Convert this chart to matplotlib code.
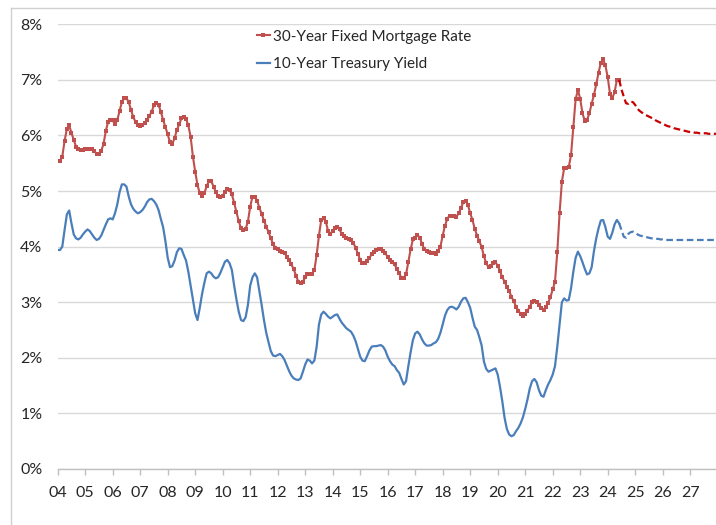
import numpy as np
import matplotlib.pyplot as plt
from matplotlib.lines import Line2D

plt.rcParams['font.family'] = ['Lato', 'DejaVu Sans']

# monthly data, Jan 2004 onward
start_year = 2004

mortgage = [
    5.54, 5.54, 5.62, 5.90, 6.12, 6.18, 6.05, 5.92, 5.80, 5.75, 5.74, 5.74,  # 2004
    5.75, 5.76, 5.76, 5.75, 5.72, 5.67, 5.66, 5.72, 5.85, 6.08, 6.25, 6.28,  # 2005
    6.27, 6.20, 6.28, 6.44, 6.60, 6.67, 6.67, 6.60, 6.46, 6.33, 6.24, 6.18,  # 2006
    6.17, 6.19, 6.22, 6.28, 6.35, 6.43, 6.54, 6.58, 6.55, 6.43, 6.28, 6.15,  # 2007
    6.02, 5.88, 5.85, 5.95, 6.10, 6.20, 6.31, 6.34, 6.30, 6.18, 5.98, 5.62,  # 2008
    5.35, 5.11, 4.96, 4.92, 4.96, 5.09, 5.18, 5.18, 5.08, 4.98, 4.91, 4.90,  # 2009
    4.92, 4.98, 5.03, 5.02, 4.94, 4.79, 4.62, 4.46, 4.33, 4.30, 4.32, 4.45,  # 2010
    4.72, 4.90, 4.90, 4.83, 4.70, 4.59, 4.47, 4.36, 4.26, 4.15, 4.05, 3.98,  # 2011
    3.95, 3.93, 3.91, 3.88, 3.82, 3.76, 3.68, 3.59, 3.48, 3.37, 3.34, 3.37,  # 2012
    3.45, 3.50, 3.51, 3.51, 3.58, 3.85, 4.20, 4.48, 4.51, 4.45, 4.28, 4.23,  # 2013
    4.28, 4.33, 4.36, 4.31, 4.22, 4.19, 4.16, 4.14, 4.12, 4.07, 3.98, 3.87,  # 2014
    3.76, 3.71, 3.70, 3.74, 3.80, 3.86, 3.91, 3.94, 3.95, 3.95, 3.93, 3.88,  # 2015
    3.81, 3.76, 3.72, 3.68, 3.60, 3.52, 3.44, 3.43, 3.50, 3.72, 3.95, 4.13,  # 2016
    4.16, 4.21, 4.16, 4.05, 3.95, 3.92, 3.90, 3.89, 3.88, 3.87, 3.93, 4.00,  # 2017
    4.20, 4.38, 4.50, 4.56, 4.56, 4.55, 4.54, 4.60, 4.70, 4.80, 4.83, 4.75,  # 2018
    4.60, 4.48, 4.32, 4.20, 4.10, 3.99, 3.83, 3.70, 3.63, 3.66, 3.71, 3.72,  # 2019
    3.66, 3.56, 3.45, 3.37, 3.28, 3.20, 3.10, 3.02, 2.92, 2.85, 2.79, 2.76,  # 2020
    2.79, 2.85, 2.92, 3.00, 3.03, 3.00, 2.95, 2.89, 2.86, 2.92, 2.99, 3.09,  # 2021
    3.23, 3.37, 3.90, 4.60, 5.17, 5.41, 5.41, 5.43, 5.65, 6.16, 6.65, 6.82,  # 2022
    6.66, 6.40, 6.26, 6.28, 6.40, 6.57, 6.73, 6.92, 7.13, 7.31, 7.37, 7.26,  # 2023
    7.05, 6.75, 6.67, 6.78, 7.00, 7.00,                                      # 2024
]

treasury = [
    3.94, 3.94, 4.00, 4.30, 4.58, 4.65, 4.42, 4.22, 4.15, 4.13, 4.16, 4.22,  # 2004
    4.27, 4.31, 4.28, 4.22, 4.16, 4.12, 4.14, 4.20, 4.30, 4.40, 4.49, 4.51,  # 2005
    4.49, 4.60, 4.76, 4.98, 5.12, 5.12, 5.08, 4.90, 4.76, 4.68, 4.63, 4.60,  # 2006
    4.62, 4.66, 4.72, 4.80, 4.85, 4.86, 4.82, 4.76, 4.66, 4.50, 4.35, 4.10,  # 2007
    3.80, 3.63, 3.65, 3.75, 3.90, 3.97, 3.96, 3.85, 3.75, 3.55, 3.30, 3.05,  # 2008
    2.80, 2.68, 2.90, 3.15, 3.35, 3.52, 3.55, 3.52, 3.46, 3.43, 3.45, 3.53,  # 2009
    3.63, 3.73, 3.76, 3.70, 3.58, 3.30, 3.05, 2.83, 2.68, 2.66, 2.73, 2.95,  # 2010
    3.30, 3.45, 3.52, 3.45, 3.20, 2.95, 2.68, 2.45, 2.28, 2.12, 2.04, 2.03,  # 2011
    2.05, 2.07, 2.03, 1.96, 1.86, 1.76, 1.68, 1.63, 1.61, 1.60, 1.63, 1.75,  # 2012
    1.88, 1.97, 1.95, 1.90, 1.95, 2.20, 2.60, 2.78, 2.83, 2.79, 2.74, 2.71,  # 2013
    2.74, 2.77, 2.78, 2.70, 2.63, 2.58, 2.53, 2.50, 2.47, 2.40, 2.30, 2.16,  # 2014
    2.02, 1.95, 1.94, 2.03, 2.13, 2.20, 2.21, 2.21, 2.22, 2.23, 2.20, 2.13,  # 2015
    2.02, 1.94, 1.88, 1.85, 1.78, 1.73, 1.62, 1.52, 1.58, 1.85, 2.10, 2.32,  # 2016
    2.44, 2.47, 2.42, 2.33, 2.26, 2.22, 2.22, 2.23, 2.26, 2.28, 2.34, 2.45,  # 2017
    2.60, 2.76, 2.86, 2.91, 2.92, 2.90, 2.87, 2.92, 3.01, 3.07, 3.08, 3.00,  # 2018
    2.90, 2.72, 2.56, 2.50, 2.37, 2.22, 1.93, 1.80, 1.75, 1.77, 1.79, 1.81,  # 2019
    1.70, 1.48, 1.22, 0.92, 0.72, 0.62, 0.59, 0.61, 0.68, 0.74, 0.82, 0.93,  # 2020
    1.08, 1.25, 1.45, 1.58, 1.62, 1.56, 1.42, 1.32, 1.30, 1.42, 1.52, 1.60,  # 2021
    1.70, 1.85, 2.20, 2.60, 3.00, 3.07, 3.03, 3.04, 3.25, 3.55, 3.80, 3.91,  # 2022
    3.83, 3.72, 3.60, 3.50, 3.52, 3.63, 3.92, 4.15, 4.33, 4.47, 4.48, 4.35,  # 2023
    4.18, 4.14, 4.25, 4.40, 4.48, 4.42,                                      # 2024
]

# forecasts, starting at the last actual month (Jun 2024)
mortgage_fc = [
    7.00, 6.83, 6.70, 6.58, 6.57, 6.61, 6.60, 6.55, 6.48, 6.44, 6.41, 6.38,
    6.36, 6.34, 6.32, 6.30, 6.27, 6.25, 6.23, 6.21, 6.19, 6.17, 6.16, 6.15,
    6.13, 6.12, 6.11, 6.10, 6.09, 6.08, 6.07, 6.06, 6.06, 6.05, 6.05, 6.04,
    6.04, 6.04, 6.04, 6.03, 6.03, 6.03, 6.03, 6.03,
]
treasury_fc = [
    4.42, 4.30, 4.18, 4.16, 4.23, 4.26, 4.27, 4.25, 4.22, 4.20, 4.19, 4.18,
    4.17, 4.16, 4.15, 4.15, 4.14, 4.14, 4.13, 4.13, 4.12, 4.12, 4.12, 4.12,
    4.12, 4.12, 4.12, 4.12, 4.12, 4.12, 4.12, 4.12, 4.12, 4.12, 4.12, 4.12,
    4.12, 4.12, 4.12, 4.12, 4.12, 4.12, 4.12, 4.12,
]

year_ticks = list(range(2004, 2028))
year_labels = [f"{y % 100:02d}" for y in year_ticks]

red = '#C0504D'
red_fc = '#C80000'
blue = '#4A7EBB'
grid_c = '#D9D9D9'
text_c = '#262626'

x_act = start_year + np.arange(len(mortgage)) / 12
x_fc = x_act[-1] + np.arange(len(mortgage_fc)) / 12

fig = plt.figure(figsize=(7.16, 5.25), dpi=100)
ax = fig.add_axes([57.7 / 716, 56 / 525, 1 - 57.7 / 716, (469 - 24.3) / 525])

ax.plot(x_act, treasury, color=blue, lw=1.6, label='10-Year Treasury Yield', zorder=3)
ax.plot(x_fc, treasury_fc, color=blue, lw=1.6, ls=(0, (3, 1.6)), zorder=3)
ax.plot(x_act, mortgage, color=red, lw=1.5, marker='s', ms=3.0, mew=0,
        label='30-Year Fixed Mortgage Rate', zorder=4)
ax.plot(x_fc, mortgage_fc, color=red_fc, lw=1.6, ls=(0, (3, 1.6)), zorder=4)

ax.set_xlim(2004, 2004 + (716 - 57.7) / 27.5)
ax.set_ylim(0, 8)
ax.set_yticks(range(0, 9))
ax.set_yticklabels([f"{v}%" for v in range(0, 9)])
ax.set_xticks(year_ticks)
ax.set_xticklabels(year_labels)

ax.grid(axis='y', color=grid_c, lw=1.0)
ax.set_axisbelow(True)
for s in ['top', 'right', 'left']:
    ax.spines[s].set_visible(False)
ax.spines['bottom'].set_color('#BFBFBF')
ax.spines['bottom'].set_linewidth(1.0)
ax.tick_params(axis='y', length=0, pad=11, labelsize=11.5, labelcolor=text_c)
ax.tick_params(axis='x', length=4, width=1.0, color='#BFBFBF', pad=8,
               labelsize=11.5, labelcolor=text_c)

h, l = ax.get_legend_handles_labels()
ax.legend(h[::-1], l[::-1], loc='upper left', bbox_to_anchor=(0.302, 0.988),
          frameon=False, fontsize=11, handlelength=0.9, handletextpad=0.15,
          labelspacing=0.9, borderpad=0, borderaxespad=0, labelcolor=text_c)

# chart area border
fig.add_artist(Line2D([10.7 / 716, 10.7 / 716], [0, 1 - 8 / 525], color='#D0D0D0', lw=1))
fig.add_artist(Line2D([10.7 / 716, 1], [1 - 8 / 525, 1 - 8 / 525], color='#D0D0D0', lw=1))

fig.savefig('out.png', dpi=100)
